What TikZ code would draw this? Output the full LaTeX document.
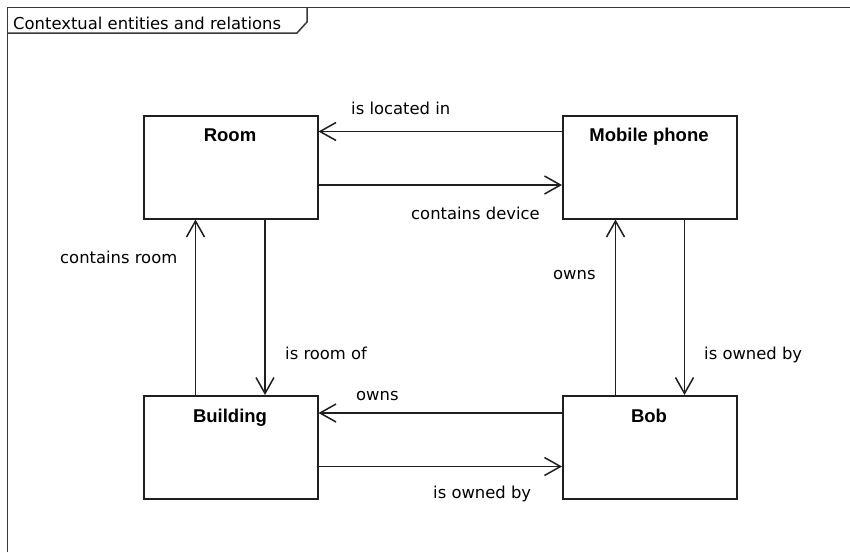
\documentclass[tikz,border=0pt]{standalone}
\usepackage{fontspec}
\setmainfont{DejaVu Sans}
\newfontfamily\titlefont{Liberation Sans}
\usetikzlibrary{arrows.meta}
\begin{document}
\begin{tikzpicture}[x=1pt,y=-1pt,
  entity/.style={draw=black!88,line width=1.5pt,minimum width=174pt,minimum height=103pt,inner sep=0pt},
  etitle/.style={font=\titlefont\bfseries\fontsize{18.5}{20}\selectfont,anchor=base},
  lbl/.style={font=\fontsize{16.4}{18}\selectfont,anchor=base west,inner sep=0pt},
  rel/.style={draw=black!88,line width=1.5pt,-{Straight Barb[length=16pt,width=18pt,line width=1.5pt]}},
  frm/.style={draw=black!78,line width=1.5pt}]
\useasboundingbox (0,0) rectangle (850,552);
\fill[white] (0,0) rectangle (850,552);
% frame
\draw[frm] (7.5,552) -- (7.5,7.5) -- (850,7.5);
\draw[frm] (7.5,33) -- (297,33) -- (307,22) -- (307,7.5);
\node[lbl] (ftitle) at (13,29) {Contextual entities and relations};
% entities
\node[entity,anchor=north west] (room) at (143,115) {};
\node[entity,anchor=north west] (phone) at (562,115) {};
\node[entity,anchor=north west] (bldg) at (143,395) {};
\node[entity,anchor=north west] (bob) at (562,395) {};
\node[etitle] (troom) at (230,141) {Room};
\node[etitle] (tphone) at (649,141) {Mobile phone};
\node[etitle] (tbldg) at (230,422) {Building};
\node[etitle] (tbob) at (649,422) {Bob};
% horizontal relations
\draw[rel] (phone.west |- 0,131.5) -- (room.east |- 0,131.5);
\draw[rel] (room.east |- 0,185) -- (phone.west |- 0,185);
\draw[rel] (bob.west |- 0,413) -- (bldg.east |- 0,413);
\draw[rel] (bldg.east |- 0,466.5) -- (bob.west |- 0,466.5);
% vertical relations
\draw[rel] (bldg.north -| 195.5,0) -- (room.south -| 195.5,0);
\draw[rel] (room.south -| 265,0) -- (bldg.north -| 265,0);
\draw[rel] (bob.north -| 615.5,0) -- (phone.south -| 615.5,0);
\draw[rel] (phone.south -| 684.5,0) -- (bob.north -| 684.5,0);
% labels
\node[lbl] (l1) at (351,114) {is located in};
\node[lbl] (l2) at (411,219) {contains device};
\node[lbl] (l3) at (60,263) {contains room};
\node[lbl] (l4) at (285,359) {is room of};
\node[lbl] (l5) at (553,279) {owns};
\node[lbl] (l6) at (704,359) {is owned by};
\node[lbl] (l7) at (356,400) {owns};
\node[lbl] (l8) at (433,498) {is owned by};
\end{tikzpicture}
\end{document}
